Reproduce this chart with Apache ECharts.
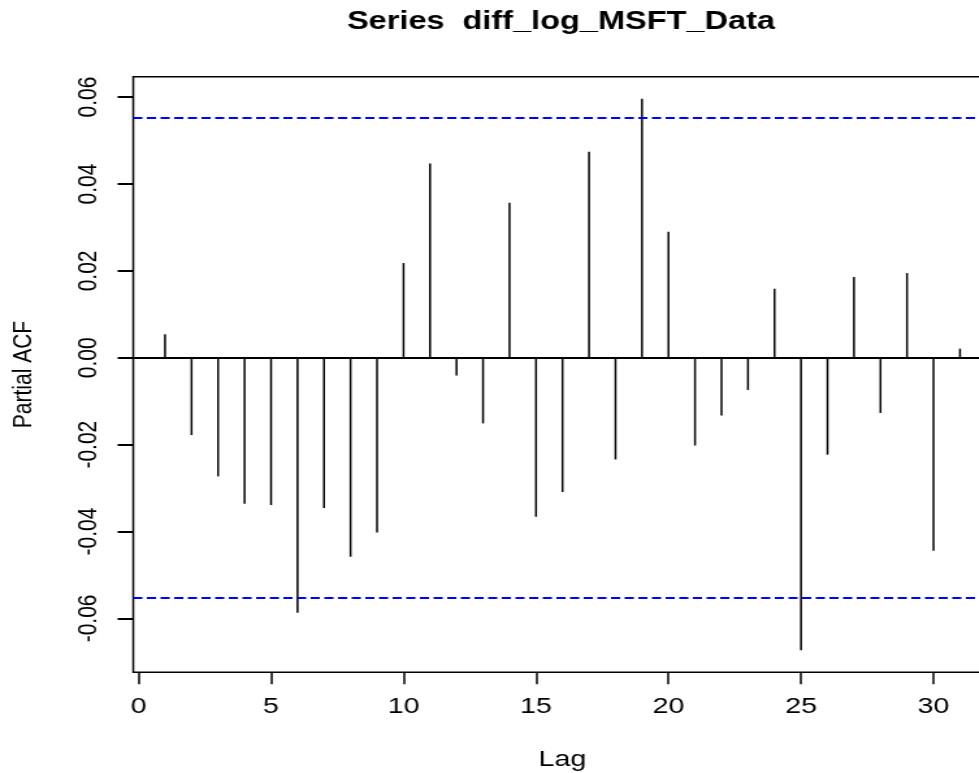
<!DOCTYPE html>
<html>
<head>
<meta charset="utf-8">
<script src="https://cdn.jsdelivr.net/npm/echarts@6/dist/echarts.min.js"></script>
<style>
html,body{margin:0;padding:0;background:#fff;overflow:hidden;}
#chart{width:753px;height:773px;transform:scaleX(1.3);transform-origin:0 0;}
</style>
</head>
<body>
<div id="chart"></div>
<script>
// Data
const lags = [1,2,3,4,5,6,7,8,9,10,11,12,13,14,15,16,17,18,19,20,21,22,23,24,25,26,27,28,29,30,31];
const pacf = [0.0054,-0.0178,-0.0273,-0.0336,-0.0339,-0.0587,-0.0346,-0.0458,-0.0402,0.0218,
              0.0447,-0.0041,-0.0151,0.0357,-0.0366,-0.0309,0.0474,-0.0234,0.0596,0.0290,
              -0.0202,-0.0133,-0.0074,0.0159,-0.0673,-0.0223,0.0186,-0.0127,0.0195,-0.0444,0.0021];
const ciBound = 0.0553;
const xTicks = [0,5,10,15,20,25,30];
const yTicks = [-0.06,-0.04,-0.02,0.00,0.02,0.04,0.06];
const xRange = [-0.2, 32.2];
const yRange = [-0.0724, 0.0647];
const titleText = 'Series  diff_log_MSFT_Data';

const FONT = "'Liberation Sans', Arial, Helvetica, sans-serif";
const chart = echarts.init(document.getElementById('chart'), null, {renderer:'canvas'});
const seriesData = lags.map((l,i)=>[l,pacf[i]]);

chart.setOption({
  animation:false,
  backgroundColor:'#fff',
  title:{
    text:titleText, left:426.5, top:5, textAlign:'center',
    textStyle:{fontFamily:FONT, fontWeight:'bold', fontSize:25, color:'#000'}
  },
  grid:{left:102.5, top:76.7, width:660.4, height:595.6, show:true, borderColor:'#000', borderWidth:1.5,
        backgroundColor:'transparent', outerBoundsMode:'none', containLabel:false},
  xAxis:{
    type:'value', min:xRange[0], max:xRange[1],
    name:'Lag', nameLocation:'middle', nameGap:77,
    nameTextStyle:{fontFamily:FONT, fontSize:22, color:'#000'},
    axisLine:{show:false, onZero:false},
    splitLine:{show:false},
    axisTick:{show:true, length:12, customValues:xTicks, lineStyle:{color:'#000', width:1.5}},
    axisLabel:{show:true, margin:24, customValues:xTicks, fontFamily:FONT, fontSize:22, color:'#000',
      formatter:v=>String(v)}
  },
  yAxis:{
    type:'value', min:yRange[0], max:yRange[1],
    name:'Partial ACF', nameLocation:'middle', nameGap:74, nameRotate:90,
    nameTextStyle:{fontFamily:FONT, fontSize:21, color:'#000'},
    axisLine:{show:false, onZero:false},
    splitLine:{show:false},
    axisTick:{show:true, length:12, customValues:yTicks, lineStyle:{color:'#000', width:2}},
    axisLabel:{show:true, margin:24, rotate:90, customValues:yTicks, fontFamily:FONT, fontSize:21, color:'#000',
      formatter:v=>v.toFixed(2)}
  },
  series:[{
    type:'bar', data:seriesData, barWidth:1.5, silent:true,
    itemStyle:{color:'#000'},
    markLine:{
      silent:true, symbol:'none', label:{show:false}, animation:false, precision:6,
      data:[
        {yAxis:0, lineStyle:{color:'#000', width:2, type:'solid'}},
        {yAxis:ciBound, lineStyle:{color:'#0000ff', width:2, type:[7,3.5]}},
        {yAxis:-ciBound, lineStyle:{color:'#0000ff', width:2, type:[7,3.5]}}
      ]
    }
  }]
});
</script>
</body>
</html>
